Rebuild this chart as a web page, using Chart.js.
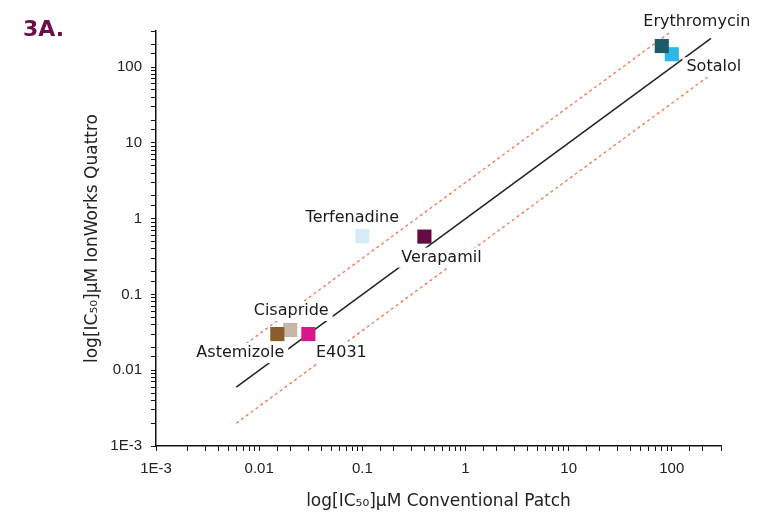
<!DOCTYPE html>
<html>
<head>
<meta charset="utf-8">
<script src="https://cdn.jsdelivr.net/npm/chart.js@4.4.1/dist/chart.umd.min.js"></script>
<style>
html,body{margin:0;padding:0;background:#fff;}
#wrap{width:759px;height:515px;position:relative;}
</style>
</head>
<body>
<div id="wrap"><canvas id="c" width="759" height="515"></canvas></div>
<script>
// ---- data ----
const compounds = ['Sotalol', 'Erythromycin', 'Terfenadine', 'Verapamil', 'Cisapride', 'Astemizole', 'E4031'];
const conventionalPatch = [100, 80, 0.1, 0.4, 0.02, 0.015, 0.03];
const ionWorksQuattro = [148, 190, 0.59, 0.58, 0.034, 0.03, 0.03];
const compoundColors = ['#2bb7ea', '#1d5b6a', '#d6edf8', '#640c41', '#c9b6a9', '#8b5d2d', '#d8178b'];

const fitX = [0.006, 240];
const fitY = [0.006, 240];
const upperY = [0.018, 720];
const lowerY = [0.002, 80];

const tickValues = [0.001, 0.01, 0.1, 1, 10, 100];
const tickLabels = ['1E-3', '0.01', '0.1', '1', '10', '100'];

const xTitle = 'log[IC₅₀]μM Conventional Patch';
const yTitle = 'log[IC₅₀]μM IonWorks Quattro';
const panelLabel = '3A.';

// ---- presentation ----
const labelOffsets = {
  'Erythromycin': [35, -24],
  'Sotalol': [42, 13],
  'Terfenadine': [-10, -18],
  'Verapamil': [17, 21],
  'Cisapride': [1, -19],
  'Astemizole': [-37, 19],
  'E4031': [33, 19]
};

function fmtTick(v) {
  const i = tickValues.findIndex(t => Math.abs(Math.log10(t) - Math.log10(v)) < 1e-6);
  return i >= 0 ? tickLabels[i] : '';
}

const labelPlugin = {
  id: 'compoundLabels',
  beforeDatasetDraw(chart, args) {
    if (chart.data.datasets[args.index].label !== 'compounds') return;
    const ctx = chart.ctx;
    ctx.save();
    ctx.font = '16px "DejaVu Sans"';
    ctx.textAlign = 'center';
    ctx.textBaseline = 'middle';
    args.meta.data.forEach((pt, i) => {
      const name = compounds[i];
      const off = labelOffsets[name];
      const x = pt.x + off[0], y = pt.y + off[1];
      const w = ctx.measureText(name).width;
      ctx.fillStyle = '#ffffff';
      ctx.fillRect(x - w / 2 - 4, y - 10, w + 8, 20);
      ctx.fillStyle = '#1a1a1a';
      ctx.fillText(name, x, y);
    });
    ctx.restore();
  },
  afterDraw(chart) {
    const ctx = chart.ctx;
    ctx.save();
    ctx.font = 'bold 22px "DejaVu Sans"';
    ctx.fillStyle = '#6a0d48';
    ctx.textAlign = 'left';
    ctx.textBaseline = 'alphabetic';
    ctx.fillText(panelLabel, 23, 36);
    ctx.restore();
  }
};

const axisCommon = {
  type: 'logarithmic',
  min: 0.001,
  max: 300,
  border: { display: true, color: '#111', width: 1.5 },
  grid: { drawOnChartArea: false, drawTicks: true, tickLength: 5, color: '#111', lineWidth: 1 },
  ticks: {
    autoSkip: false, maxRotation: 0, minRotation: 0, padding: 9,
    color: '#222', font: { family: 'Liberation Sans', size: 15 },
    callback: fmtTick
  }
};

new Chart(document.getElementById('c').getContext('2d'), {
  type: 'scatter',
  data: {
    datasets: [
      {
        label: 'upper',
        data: fitX.map((x, i) => ({ x, y: upperY[i] })),
        showLine: true, borderColor: '#f07e5a', borderWidth: 1.4, borderDash: [3, 3],
        pointRadius: 0, order: 3
      },
      {
        label: 'lower',
        data: fitX.map((x, i) => ({ x, y: lowerY[i] })),
        showLine: true, borderColor: '#f07e5a', borderWidth: 1.4, borderDash: [3, 3],
        pointRadius: 0, order: 3
      },
      {
        label: 'fit',
        data: fitX.map((x, i) => ({ x, y: fitY[i] })),
        showLine: true, borderColor: '#222', borderWidth: 1.5,
        pointRadius: 0, order: 2
      },
      {
        label: 'compounds',
        data: compounds.map((c, i) => ({ x: conventionalPatch[i], y: ionWorksQuattro[i] })),
        pointStyle: 'rect', pointRadius: 10, pointHoverRadius: 10,
        backgroundColor: compoundColors, borderWidth: 0, order: 0
      }
    ]
  },
  options: {
    responsive: false,
    animation: false,
    events: [],
    layout: { padding: { left: 0, right: 38, top: 31, bottom: 0 } },
    plugins: { legend: { display: false }, tooltip: { enabled: false } },
    scales: {
      x: Object.assign({}, axisCommon, {
        position: 'bottom',
        title: { display: true, text: xTitle, color: '#222', font: { family: 'DejaVu Sans', size: 17 }, padding: { top: 0, bottom: 3 } },
        afterFit(s) { s.height = 69; }
      }),
      y: Object.assign({}, axisCommon, {
        position: 'left',
        title: { display: true, text: yTitle, color: '#222', font: { family: 'DejaVu Sans', size: 17 }, padding: { top: 82, bottom: 0 } },
        afterFit(s) { s.height = undefined; s.width = 156; }
      })
    }
  },
  plugins: [labelPlugin]
});
</script>
</body>
</html>
